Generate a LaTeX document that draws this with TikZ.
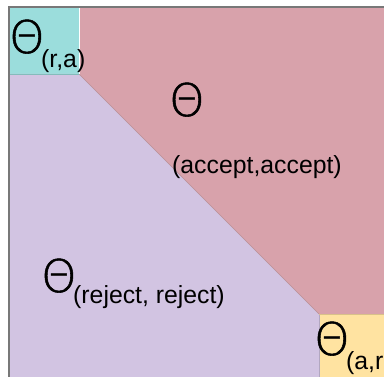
\documentclass[tikz,border=0pt]{standalone}
\usepackage{fontspec}
\setmainfont{Liberation Sans}
\newfontfamily\thinfont{DejaVu Sans ExtraLight}[FakeBold=1.2]
\newcommand{\wideTheta}{{\thinfont Θ}}
\begin{document}
\begin{tikzpicture}[x=1pt,y=-1pt,
  bigsym/.style={inner sep=0pt,anchor=base west,font=\fontsize{45}{45}\selectfont},
  subtxt/.style={inner sep=0pt,anchor=base west,font=\fontsize{24.8}{25}\selectfont}]
\definecolor{cyanreg}{RGB}{155,221,220}
\definecolor{redreg}{RGB}{216,162,171}
\definecolor{purpreg}{RGB}{210,196,226}
\definecolor{yelreg}{RGB}{255,227,161}
\definecolor{framegray}{RGB}{120,120,120}
\useasboundingbox (0,0) rectangle (384,377);
\clip (0,0) rectangle (384,377);
% regions of the outcome space
\fill[redreg] (79,7) -- (390,7) -- (390,314) -- (319,314) -- (79,74) -- cycle;
\fill[cyanreg] (9,7) rectangle (79,74);
\fill[purpreg] (9,74) -- (79,74) -- (319,314) -- (319,390) -- (9,390) -- cycle;
\fill[yelreg] (319,314) rectangle (390,390);
% thin boundaries between regions
\draw[redreg!85!black,line width=0.6pt] (79,74) -- (319,314);
\draw[purpreg!85!black,line width=0.6pt] (319,314) -- (319,390);
\draw[yelreg!85!black,line width=0.6pt] (319,314) -- (390,314);
\draw[cyanreg!85!black,line width=0.6pt] (9,74) -- (79,74);
\draw[white,line width=0.8pt] (79.5,8) -- (79.5,74);
% outer frame
\draw[framegray,line width=2pt] (9,395) -- (9,7) -- (395,7);
% labels
\node[bigsym] (ra) at (9,53) {\wideTheta};
\node[subtxt] (ras) at (41,68) {(r,a)};
\node[bigsym] (aa) at (169,116) {\wideTheta};
\node[subtxt] (aas) at (172,174) {(accept,accept)};
\node[bigsym] (rr) at (41,292) {\wideTheta};
\node[subtxt] (rrs) at (73,304) {(reject, reject)};
\node[bigsym] (ar) at (314,355) {\wideTheta};
\node[subtxt] (ars) at (346,370) {(a,r};
\end{tikzpicture}
\end{document}
